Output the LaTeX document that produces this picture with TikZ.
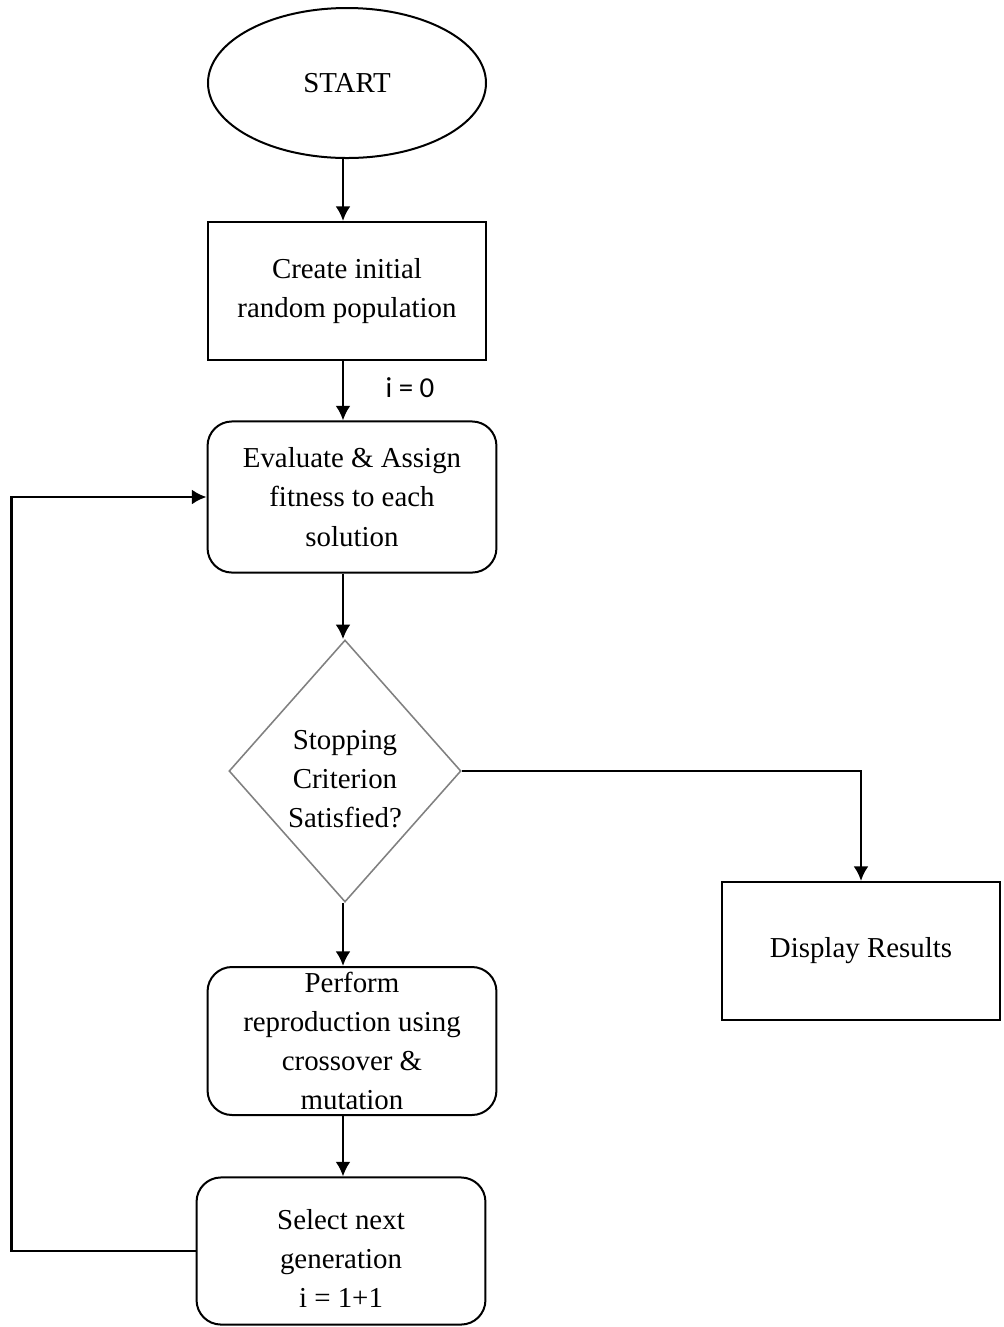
\documentclass[tikz,border=0pt]{standalone}
\usepackage{fontspec}
\setmainfont{Liberation Serif}
\newfontfamily\labelfont{Carlito}
\usetikzlibrary{shapes.geometric, arrows.meta}
\tikzset {
    x=0.45pt,
    y=-0.45pt,
    >={Latex[length=6.6pt,width=6.8pt]},
    every node/.style={font=\fontsize{13}{17.6}\selectfont, align=center},
    startstop/.style={ellipse, draw, line width=0.9pt, minimum width=125.1pt, minimum height=67.5pt},
    process/.style={rectangle, draw, line width=0.9pt, minimum width=125.4pt, minimum height=62.1pt},
    roundbox/.style={rectangle, rounded corners=11pt, draw, line width=0.9pt, inner ysep=0pt, minimum width=130pt},
    decision/.style={diamond, draw=gray, line width=0.7pt, inner sep=0pt, minimum width=104.4pt, minimum height=117.9pt},
    flow/.style={->, line width=1.3pt}
}

\begin{document}
\begin{tikzpicture}
    \useasboundingbox (0,0) rectangle (1004,1327);
    \coordinate (spine) at (343,0);

    \node[startstop] (start) at (347,83) {START};
    \node[process] (create) at (347,291) {Create initial\\random population};
    \node[roundbox, minimum height=68pt] (eval) at (352,497) {Evaluate \& Assign\\fitness to each\\solution};
    \node[decision] (crit) at (345,771) {\rule{0pt}{16pt}Stopping\\Criterion\\Satisfied?};
    \node[process] (disp) at (861,951) {Display Results};
    \node[roundbox, minimum height=66.6pt] (repro) at (352,1041) {Perform\\reproduction using\\crossover \&\\mutation};
    \node[roundbox, minimum height=66.2pt] (select) at (341,1251) {\rule{0pt}{16pt}Select next\\generation\\i = 1+1};
    \node[font=\labelfont\fontsize{13}{15}\selectfont] (init) at (410,388) {i = 0};

    \draw[flow] (start.south -| spine) -- (create.north -| spine);
    \draw[flow] (create.south -| spine) -- (eval.north -| spine);
    \draw[flow] (eval.south -| spine) -- (crit.north -| spine);
    \draw[flow] (crit.south -| spine) -- (repro.north -| spine);
    \draw[flow] (repro.south -| spine) -- (select.north -| spine);
    \draw[flow] (crit.east) -| (disp.north);
    \draw[flow] (select.west) -- ++(-184,0) |- (eval.west);
\end{tikzpicture}
\end{document}
